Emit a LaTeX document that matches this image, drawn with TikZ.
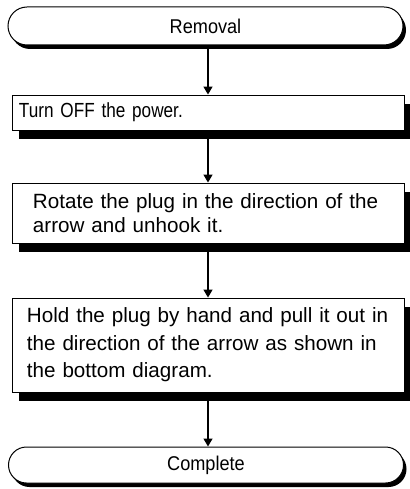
\documentclass[tikz,border=0pt]{standalone}
\usepackage{fontspec}
\setmainfont{Liberation Sans}
\newfontfamily\termfont{Liberation Sans}[FakeStretch=0.91]
\newfontfamily\narrowfont{Liberation Sans}[FakeStretch=0.84]
\usetikzlibrary{shapes.misc,shadows,arrows.meta}
\begin{document}
\begin{tikzpicture}[x=1bp,y=-1bp,
  term/.style={rounded rectangle, draw=black, line width=1bp, fill=white,
    minimum width=395bp, inner sep=0pt, font=\termfont\fontsize{20}{22}\selectfont,
    drop shadow={shadow xshift=3bp, shadow yshift=-4bp, fill=black, opacity=1}},
  stepbox/.style={rectangle, draw=black, line width=0.9bp, fill=white,
    inner xsep=0pt, inner ysep=0pt, text width=392bp, align=left,
    drop shadow={shadow xshift=7bp, shadow yshift=-9bp, fill=black, opacity=1}},
  flow/.style={line width=1.4bp, -{Triangle[length=8bp,width=9bp]}}
]
\useasboundingbox[fill=white] (0,0) rectangle (409,489);
\node[term, minimum height=38bp] (start) at (205.5,26) {Removal};
\node[stepbox, minimum height=35bp, font=\narrowfont\fontsize{20.5}{24}\selectfont] (s1) at (208,112.5)
  {\hspace*{7bp}Turn OFF the power.};
\node[stepbox, minimum height=60bp, font=\fontsize{20.7}{24}\selectfont] (s2) at (208,213)
  {\hspace*{21bp}Rotate the plug in the direction of the\\\hspace*{21bp}arrow and unhook it.};
\node[stepbox, minimum height=94bp, font=\fontsize{20.7}{27.5}\selectfont] (s3) at (208,345)
  {\hspace*{15bp}Hold the plug by hand and pull it out in\\\hspace*{15bp}the direction of the arrow as shown in\\\hspace*{15bp}the bottom diagram.};
\node[term, minimum height=36bp] (end) at (206,465) {Complete};
\draw[flow] (start.south -| s1.north) -- (s1.north);
\draw[flow] (s1.south) -- (s2.north);
\draw[flow] (s2.south) -- (s3.north);
\draw[flow] (s3.south) -- (end.north -| s3.south);
\end{tikzpicture}
\end{document}
